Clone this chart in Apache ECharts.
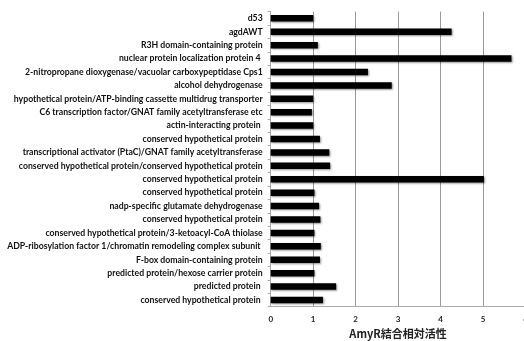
<!DOCTYPE html>
<html><head><meta charset="utf-8">
<script src="https://cdn.jsdelivr.net/npm/echarts@6/dist/echarts.min.js"></script>
<style>html,body{margin:0;padding:0;background:#fff;}#c{width:524px;height:341px;}</style>
</head><body><div id="c"></div>
<script>
const categories = [
  "d53",
  "agdAWT",
  "R3H domain-containing protein",
  "nuclear protein localization protein 4 ",
  "2-nitropropane dioxygenase/vacuolar carboxypeptidase Cps1",
  "alcohol dehydrogenase",
  "hypothetical protein/ATP-binding cassette multidrug transporter",
  "C6 transcription factor/GNAT family acetyltransferase etc",
  "actin-interacting protein ",
  "conserved hypothetical protein",
  "transcriptional activator (PtaC)/GNAT family acetyltransferase",
  "conserved hypothetical protein/conserved hypothetical protein",
  "conserved hypothetical protein",
  "conserved hypothetical protein",
  "nadp-specific glutamate dehydrogenase",
  "conserved hypothetical protein",
  "conserved hypothetical protein/3-ketoacyl-CoA thiolase",
  "ADP-ribosylation factor 1/chromatin remodeling complex subunit ",
  "F-box domain-containing protein",
  "predicted protein/hexose carrier protein",
  "predicted protein ",
  "conserved hypothetical protein "
];
const values = [1.0, 4.26, 1.11, 5.67, 2.29, 2.85, 1.0, 0.97, 1.0, 1.16, 1.38, 1.40, 5.02, 1.03, 1.14, 1.17, 1.03, 1.18, 1.16, 1.03, 1.54, 1.23];
const xTicks = [0, 1, 2, 3, 4, 5, 6];
const axisName = "AmyR結合相対活性";

const chart = echarts.init(document.getElementById('c'), null, {renderer: 'canvas'});
chart.setOption({
  animation: false,
  backgroundColor: '#fff',
  grid: {left: 270.7, width: 254.8, top: 11.6, height: 295.1, containLabel: false, outerBoundsMode: 'none'},
  xAxis: {
    type: 'value', min: xTicks[0], max: xTicks[xTicks.length - 1], interval: 1,
    name: axisName, nameLocation: 'middle', nameGap: 21,
    nameTextStyle: {fontFamily: 'Noto Sans CJK JP', fontWeight: 'bold', fontSize: 11, color: '#222'},
    axisLine: {show: true, lineStyle: {color: '#aaa', width: 1}},
    axisTick: {show: false},
    axisLabel: {fontFamily: 'Lato', fontWeight: 'bold', fontSize: 8, color: '#222', margin: 9},
    splitLine: {show: true, lineStyle: {color: '#999', width: 1}}
  },
  yAxis: {
    type: 'category', data: categories, inverse: true,
    axisLine: {show: true, lineStyle: {color: '#aaa', width: 1}},
    axisTick: {show: true, length: 3, lineStyle: {color: '#aaa'}},
    axisLabel: {fontFamily: 'Lato', fontWeight: 'bold', fontSize: 8.7, color: '#111', margin: 8, interval: 0}
  },
  series: [{
    type: 'bar', data: values, barWidth: 6.5,
    itemStyle: {color: '#000', shadowBlur: 2, shadowColor: 'rgba(0,0,0,0.45)', shadowOffsetX: 1, shadowOffsetY: 1}
  }]
});
</script></body></html>
